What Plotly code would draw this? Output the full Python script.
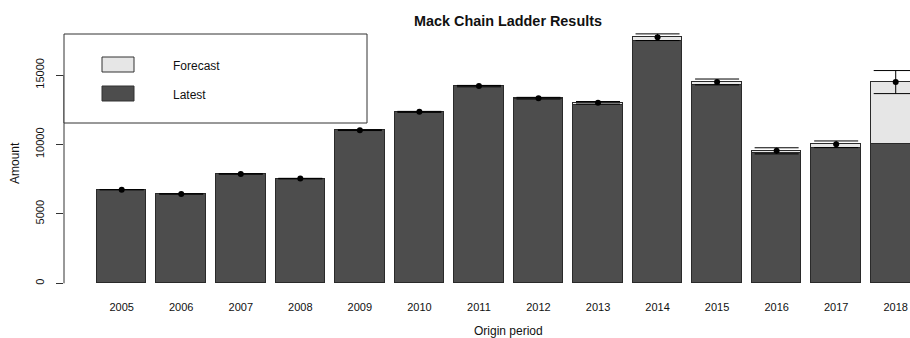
import plotly.graph_objects as go

# Mack chain ladder summary by origin year
years = [2005, 2006, 2007, 2008, 2009, 2010, 2011, 2012, 2013, 2014, 2015, 2016, 2017, 2018]
latest = [6740, 6430, 7870, 7530, 11015, 12330, 14180, 13250, 12830, 17480, 14280, 9360, 9760, 10030]
ultimate = [6740, 6435, 7875, 7540, 11030, 12345, 14200, 13330, 13000, 17720, 14500, 9540, 10010, 14490]
mack_se = [0, 10, 15, 20, 30, 35, 50, 60, 90, 240, 210, 220, 240, 830]
forecast = [u - l for u, l in zip(ultimate, latest)]

y_ticks = [0, 5000, 10000, 15000]
y_tick_text = ["0", "5000", "10000", "15000"]
year_labels = [str(y) for y in years]

FONT = "Liberation Sans, Arial, sans-serif"
W, H = 910, 338
L, R, T, B = 64, 0, 30, 42
PW, PH = W - L - R, H - T - B


def px_x(px):
    return (px - L) / PW


def px_y(py):
    return (H - B - py) / PH


# zero-width intervals get no whiskers at all
se_plus = [s if s > 0 else None for s in mack_se]

fig = go.Figure()

fig.add_trace(go.Bar(
    x=years, y=latest, name="Latest", width=0.833,
    marker=dict(color="#4D4D4D", line=dict(color="#2a2a2a", width=1)),
    showlegend=False, hoverinfo="skip",
))
fig.add_trace(go.Bar(
    x=years, y=forecast, name="Forecast", width=0.833,
    marker=dict(color="#E6E6E6", line=dict(color="#2a2a2a", width=1)),
    showlegend=False, hoverinfo="skip",
))
fig.add_trace(go.Scatter(
    x=years, y=ultimate, mode="markers",
    marker=dict(color="black", size=6),
    error_y=dict(type="data", array=se_plus, color="black", thickness=1, width=22),
    showlegend=False, hoverinfo="skip",
))

shapes = []
# y axis line spanning the tick range
shapes.append(dict(type="line", xref="paper", yref="y", x0=0, x1=0,
                   y0=y_ticks[0], y1=y_ticks[-1], line=dict(color="#333333", width=1)))
# legend box and swatches
shapes.append(dict(type="rect", xref="paper", yref="paper",
                   x0=px_x(64), x1=px_x(367), y0=px_y(123), y1=px_y(34),
                   line=dict(color="#333333", width=1), fillcolor="white"))
shapes.append(dict(type="rect", xref="paper", yref="paper",
                   x0=px_x(102), x1=px_x(134), y0=px_y(72), y1=px_y(57),
                   line=dict(color="#333333", width=1), fillcolor="#E6E6E6"))
shapes.append(dict(type="rect", xref="paper", yref="paper",
                   x0=px_x(102), x1=px_x(134), y0=px_y(101), y1=px_y(86),
                   line=dict(color="#333333", width=1), fillcolor="#4D4D4D"))

annotations = [
    dict(text="Forecast", xref="paper", yref="paper", x=px_x(171), y=px_y(66),
         xanchor="left", yanchor="middle", showarrow=False,
         font=dict(family=FONT, size=12, color="#111111")),
    dict(text="Latest", xref="paper", yref="paper", x=px_x(171), y=px_y(95),
         xanchor="left", yanchor="middle", showarrow=False,
         font=dict(family=FONT, size=12, color="#111111")),
    dict(text="Origin period", xref="paper", yref="paper", x=px_x(508), y=px_y(331),
         xanchor="center", yanchor="middle", showarrow=False,
         font=dict(family=FONT, size=12, color="#111111")),
    dict(text="Amount", xref="paper", yref="paper", x=px_x(15), y=px_y(163),
         xanchor="center", yanchor="middle", showarrow=False, textangle=-90,
         font=dict(family=FONT, size=12, color="#111111")),
]

fig.update_layout(
    width=W, height=H,
    margin=dict(l=L, r=R, t=T, b=B, pad=0),
    paper_bgcolor="white", plot_bgcolor="white",
    barmode="stack", bargap=0,
    title=dict(text="<b>Mack Chain Ladder Results</b>", x=508 / W, xanchor="center",
               y=1 - 21 / H, yanchor="middle", xref="container", yref="container",
               font=dict(family=FONT, size=14.4, color="#111111")),
    xaxis=dict(range=[2004.031, 2018.240], tickvals=years, ticktext=year_labels,
               ticks="", showgrid=False, zeroline=False, showline=False,
               ticklabelstandoff=3,
               tickfont=dict(family=FONT, size=11, color="#111111")),
    yaxis=dict(range=[-914, 18240], tickvals=y_ticks, ticktext=y_tick_text,
               ticks="outside", ticklen=7, tickcolor="#333333", tickwidth=1,
               tickangle=-90, showgrid=False, zeroline=False, showline=False,
               ticklabelstandoff=8,
               tickfont=dict(family=FONT, size=11, color="#111111")),
    shapes=shapes, annotations=annotations,
    font=dict(family=FONT),
)

fig.write_html("out.html", config={"displayModeBar": False})
